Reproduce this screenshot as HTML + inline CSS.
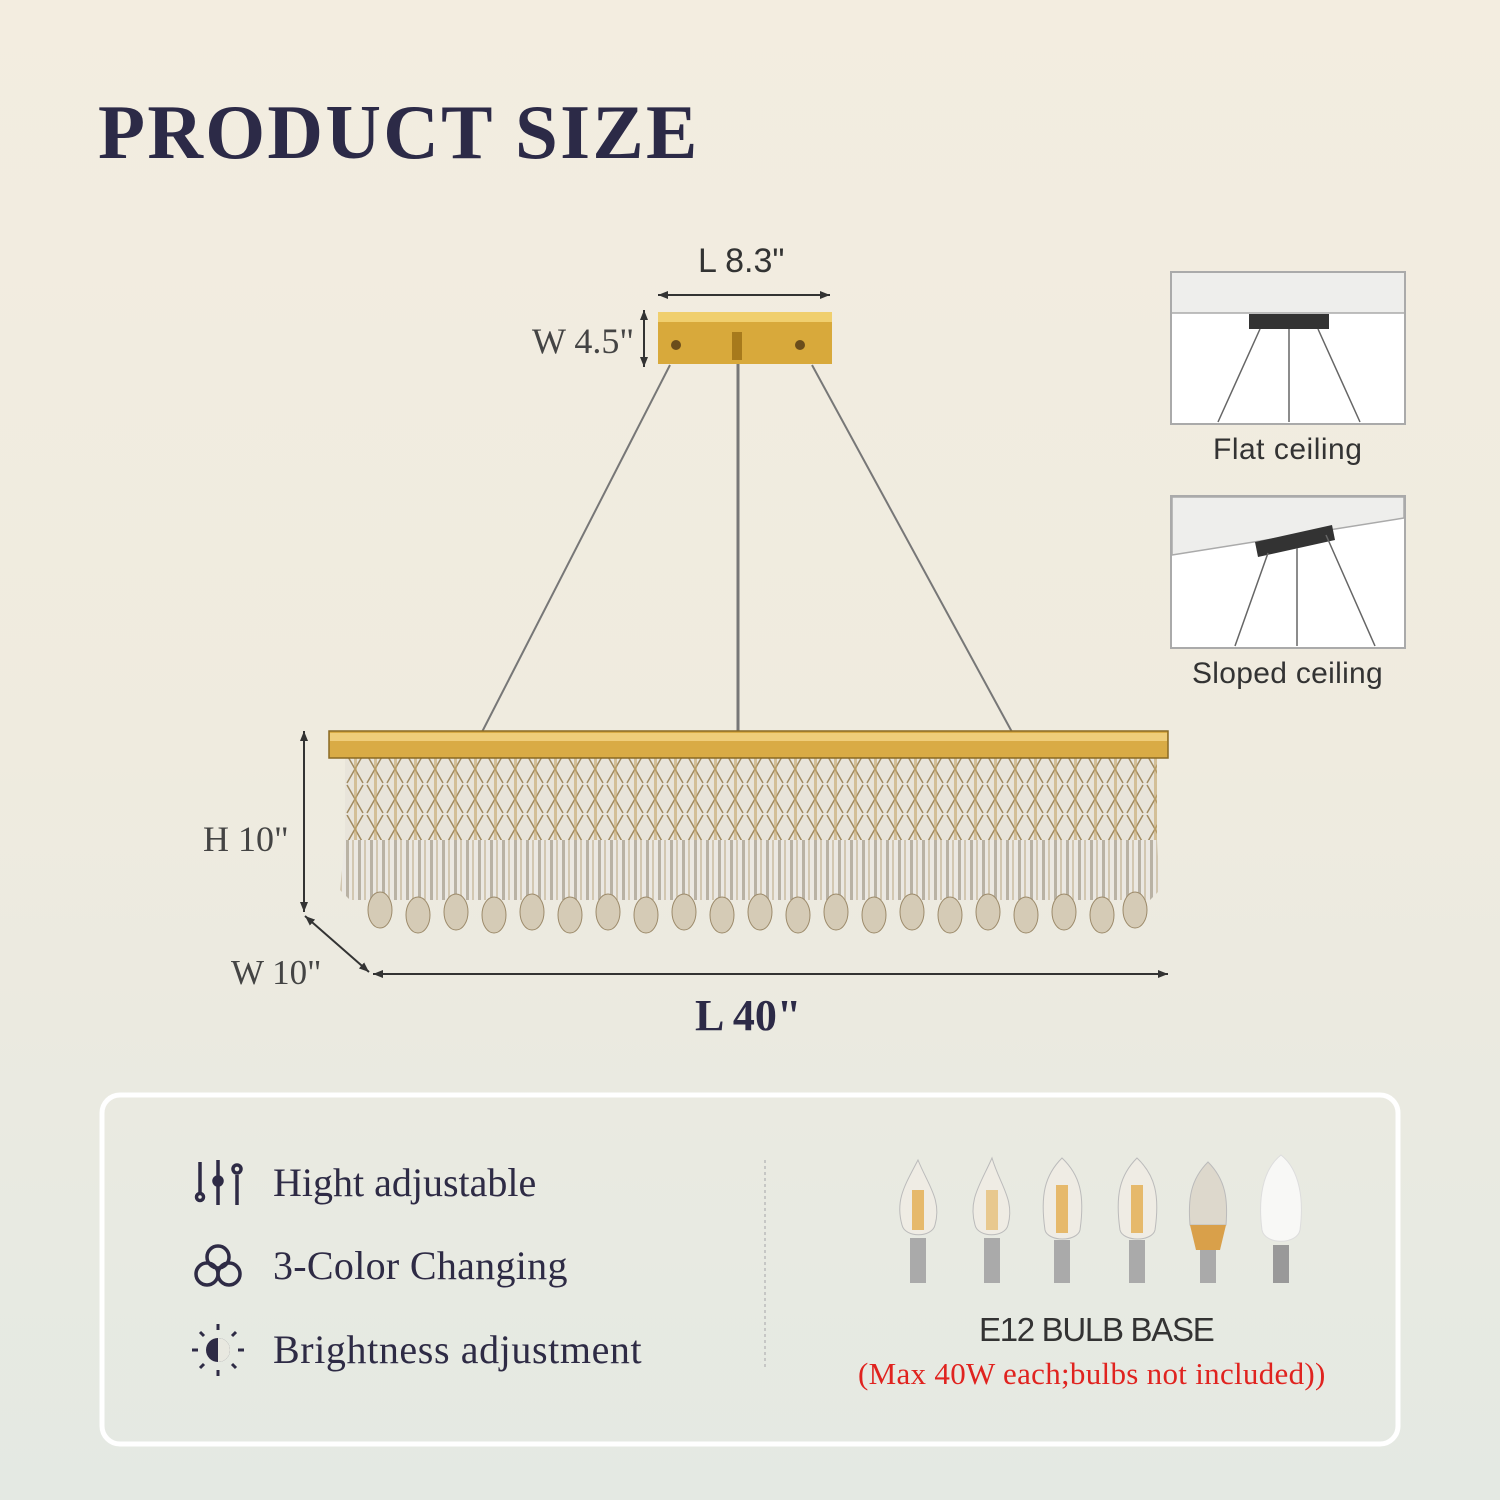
<!DOCTYPE html>
<html><head><meta charset="utf-8"><style>
html,body{margin:0;padding:0}
body{width:1500px;height:1500px;position:relative;overflow:hidden;background:linear-gradient(#f3ede0 0%,#efebdf 50%,#e4e9e3 100%);font-family:"Liberation Serif",serif;color:#2e2b45}
.t{position:absolute;white-space:nowrap}
</style></head><body>
<div class="t" style="left:98px;top:88px;font-size:77px;font-weight:bold;letter-spacing:2.3px;color:#2c2a47">PRODUCT SIZE</div>

<svg width="1500" height="1500" style="position:absolute;left:0;top:0">
<defs>
<pattern id="cr" x="345" y="755" width="20" height="60" patternUnits="userSpaceOnUse">
<rect width="20" height="60" fill="#e8e4da"/>
<path d="M2 0 L10 14 L18 0 M2 28 L10 14 L18 28 M2 30 L10 44 L18 30 M2 58 L10 44 L18 58" stroke="#a08a60" stroke-width="1.5" fill="none"/>
<rect x="9" y="0" width="3" height="60" fill="#c5a66a" opacity=".6"/>
</pattern>
<pattern id="st" x="345" y="840" width="12" height="60" patternUnits="userSpaceOnUse">
<rect width="12" height="60" fill="#ebe8e2"/>
<rect x="1" width="3" height="60" fill="#b9b2a4"/><rect x="7" width="2" height="60" fill="#d2c7b1"/>
</pattern>
<marker id="a" markerUnits="userSpaceOnUse" markerWidth="12" markerHeight="10" refX="10" refY="5" orient="auto-start-reverse"><path d="M0 1 L10 5 L0 9z" fill="#333"/></marker>
</defs>
<line x1="670" y1="365" x2="482" y2="732" stroke="#777" stroke-width="2"/>
<line x1="812" y1="365" x2="1012" y2="732" stroke="#777" stroke-width="2"/>
<line x1="738" y1="360" x2="738" y2="732" stroke="#777" stroke-width="3"/>
<rect x="658" y="312" width="174" height="52" fill="#d8a93b"/>
<rect x="658" y="312" width="174" height="10" fill="#f0cf6e"/>
<rect x="732" y="332" width="10" height="28" fill="#a77a1c"/>
<circle cx="676" cy="345" r="5" fill="#6b4d1b"/><circle cx="800" cy="345" r="5" fill="#6b4d1b"/>
<rect x="345" y="755" width="812" height="90" fill="url(#cr)"/>
<path d="M345 840 H1157 L1160 890 L1150 900 H350 L340 890z" fill="url(#st)"/>
<g fill="#d5cbb6" stroke="#9c8a6a" stroke-width="1">
<ellipse cx="380" cy="910" rx="12" ry="18"/><ellipse cx="418" cy="915" rx="12" ry="18"/><ellipse cx="456" cy="912" rx="12" ry="18"/><ellipse cx="494" cy="915" rx="12" ry="18"/><ellipse cx="532" cy="912" rx="12" ry="18"/><ellipse cx="570" cy="915" rx="12" ry="18"/><ellipse cx="608" cy="912" rx="12" ry="18"/><ellipse cx="646" cy="915" rx="12" ry="18"/><ellipse cx="684" cy="912" rx="12" ry="18"/><ellipse cx="722" cy="915" rx="12" ry="18"/><ellipse cx="760" cy="912" rx="12" ry="18"/><ellipse cx="798" cy="915" rx="12" ry="18"/><ellipse cx="836" cy="912" rx="12" ry="18"/><ellipse cx="874" cy="915" rx="12" ry="18"/><ellipse cx="912" cy="912" rx="12" ry="18"/><ellipse cx="950" cy="915" rx="12" ry="18"/><ellipse cx="988" cy="912" rx="12" ry="18"/><ellipse cx="1026" cy="915" rx="12" ry="18"/><ellipse cx="1064" cy="912" rx="12" ry="18"/><ellipse cx="1102" cy="915" rx="12" ry="18"/><ellipse cx="1135" cy="910" rx="12" ry="18"/>
</g>
<rect x="329" y="731" width="839" height="27" fill="#d9ab45" stroke="#8a6a25" stroke-width="1.5"/>
<rect x="330" y="733" width="837" height="8" fill="#efcd7a"/>
<line x1="658" y1="295" x2="830" y2="295" stroke="#333" stroke-width="2" marker-end="url(#a)" marker-start="url(#a)"/>
<line x1="644" y1="310" x2="644" y2="367" stroke="#333" stroke-width="2" marker-end="url(#a)" marker-start="url(#a)"/>
<line x1="304" y1="731" x2="304" y2="912" stroke="#333" stroke-width="2" marker-end="url(#a)" marker-start="url(#a)"/>
<line x1="305" y1="916" x2="369" y2="972" stroke="#333" stroke-width="2" marker-end="url(#a)" marker-start="url(#a)"/>
<line x1="373" y1="974" x2="1168" y2="974" stroke="#333" stroke-width="2" marker-end="url(#a)" marker-start="url(#a)"/>
<g stroke="#aaa" stroke-width="2" fill="#fff">
<rect x="1171" y="272" width="234" height="152"/>
<rect x="1171" y="496" width="234" height="152"/>
</g>
<rect x="1172" y="273" width="232" height="40" fill="#eeeeec"/>
<line x1="1172" y1="313" x2="1404" y2="313" stroke="#aaa" stroke-width="1.5"/>
<path d="M1172 497 H1404 V518 L1172 555z" fill="#eeeeec" stroke="#aaa" stroke-width="1.5"/>
<rect x="1249" y="314" width="80" height="15" fill="#333"/>
<path d="M1289 329 V422 M1260 329 L1218 422 M1318 329 L1360 422" stroke="#666" stroke-width="1.5"/>
<path d="M1255 542 L1332 525 L1335 540 L1258 557z" fill="#333"/>
<path d="M1297 548 V646 M1268 553 L1235 646 M1326 535 L1375 646" stroke="#666" stroke-width="1.5"/>
<rect x="102" y="1095" width="1296" height="349" rx="18" fill="none" stroke="#fff" stroke-width="5"/>
<line x1="765" y1="1160" x2="765" y2="1368" stroke="#bbb" stroke-width="1.5" stroke-dasharray="3 3"/>
<g stroke="#2e2b45" stroke-width="3.5" fill="none">
<line x1="200" y1="1162" x2="200" y2="1195"/><circle cx="200" cy="1197" r="3.5"/>
<line x1="218" y1="1160" x2="218" y2="1205"/><circle cx="218" cy="1181" r="4" fill="#2e2b45"/>
<line x1="237" y1="1175" x2="237" y2="1205"/><circle cx="237" cy="1169" r="4"/>
<circle cx="218" cy="1257" r="11"/><circle cx="207" cy="1274" r="11"/><circle cx="229" cy="1274" r="11"/>
</g>
<circle cx="218" cy="1350" r="12" fill="#2e2b45"/>
<path d="M218 1338 A12 12 0 0 1 218 1362z" fill="#e8e8e0"/>
<g stroke="#2e2b45" stroke-width="3"><line x1="218" y1="1324" x2="218" y2="1330"/><line x1="218" y1="1370" x2="218" y2="1376"/><line x1="192" y1="1350" x2="198" y2="1350"/><line x1="238" y1="1350" x2="244" y2="1350"/><line x1="200" y1="1332" x2="204" y2="1336"/><line x1="232" y1="1364" x2="236" y2="1368"/><line x1="236" y1="1332" x2="232" y2="1336"/><line x1="204" y1="1364" x2="200" y2="1368"/></g>
<g>
<path d="M918 1160 C905 1185 895 1200 902 1225 C905 1238 932 1238 935 1225 C942 1200 928 1185 918 1160z" fill="#efece4" stroke="#bbb"/><rect x="912" y="1190" width="12" height="40" fill="#e2a438" opacity=".7"/><rect x="910" y="1238" width="16" height="45" fill="#aaa"/>
<path d="M992 1158 C980 1185 968 1200 975 1225 C978 1238 1005 1238 1008 1225 C1015 1200 1000 1185 992 1158z" fill="#efece4" stroke="#bbb"/><rect x="986" y="1190" width="12" height="40" fill="#e2a438" opacity=".5"/><rect x="984" y="1238" width="16" height="45" fill="#aaa"/>
<path d="M1062 1158 C1045 1175 1040 1195 1045 1230 C1048 1242 1077 1242 1080 1230 C1085 1195 1080 1175 1062 1158z" fill="#efece4" stroke="#bbb"/><rect x="1056" y="1185" width="12" height="48" fill="#e2a438" opacity=".7"/><rect x="1054" y="1240" width="16" height="43" fill="#aaa"/>
<path d="M1137 1158 C1120 1175 1115 1195 1120 1230 C1123 1242 1152 1242 1155 1230 C1160 1195 1155 1175 1137 1158z" fill="#efece4" stroke="#bbb"/><rect x="1131" y="1185" width="12" height="48" fill="#e2a438" opacity=".7"/><rect x="1129" y="1240" width="16" height="43" fill="#aaa"/>
<path d="M1208 1162 C1190 1180 1188 1200 1190 1225 H1226 C1228 1200 1226 1180 1208 1162z" fill="#ddd8cc" stroke="#bbb"/><path d="M1190 1225 H1226 L1220 1250 H1196z" fill="#d9a04a"/><rect x="1200" y="1250" width="16" height="33" fill="#aaa"/>
<path d="M1281 1155 C1262 1170 1258 1200 1262 1230 C1265 1245 1297 1245 1300 1230 C1304 1200 1300 1170 1281 1155z" fill="#f8f8f6" stroke="#ddd"/><rect x="1273" y="1245" width="16" height="38" fill="#999"/>
</g>
</svg>

<div class="t" style="left:698px;top:242px;font-size:34px;font-family:'Liberation Sans',sans-serif;color:#333">L 8.3"</div>
<div class="t" style="left:532px;top:320px;font-size:36px;color:#444">W 4.5"</div>
<div class="t" style="left:203px;top:818px;font-size:36px;color:#444">H 10"</div>
<div class="t" style="left:231px;top:953px;font-size:35px;color:#444">W 10"</div>
<div class="t" style="left:695px;top:990px;font-size:44px;font-weight:bold;color:#2c2a47">L 40"</div>
<div class="t" style="left:1213px;top:433px;font-size:30px;font-family:'Liberation Sans',sans-serif;color:#333;letter-spacing:0.5px">Flat ceiling</div>
<div class="t" style="left:1192px;top:657px;font-size:30px;font-family:'Liberation Sans',sans-serif;color:#333;letter-spacing:0.3px">Sloped ceiling</div>
<div class="t" style="left:273px;top:1159px;font-size:40px">Hight adjustable</div>
<div class="t" style="left:273px;top:1242px;font-size:40px;letter-spacing:0.3px">3-Color Changing</div>
<div class="t" style="left:273px;top:1326px;font-size:40px;letter-spacing:0.6px">Brightness adjustment</div>
<div class="t" style="left:979px;top:1311px;font-size:33px;font-family:'Liberation Sans',sans-serif;color:#333;letter-spacing:-1.3px">E12 BULB BASE</div>
<div class="t" style="left:858px;top:1356px;font-size:31px;color:#e0231f;letter-spacing:0.3px">(Max 40W each;bulbs not included))</div>
</body></html>
